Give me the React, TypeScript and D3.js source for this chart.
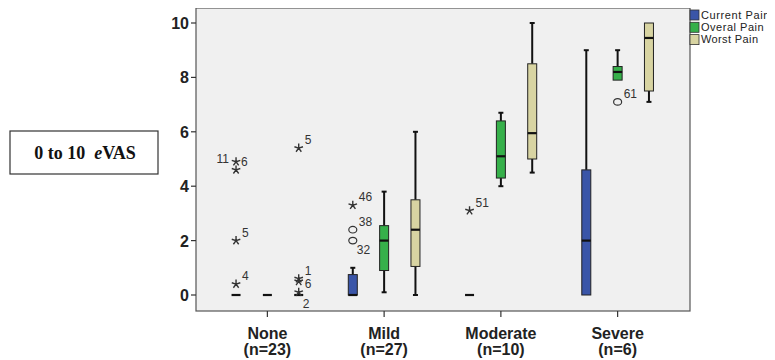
import React, { useRef, useEffect } from "react";
import * as d3 from "d3";

// categories and series
const groups = ["None", "Mild", "Moderate", "Severe"];
const groupN = ["(n=23)", "(n=27)", "(n=10)", "(n=6)"];
const seriesNames = ["Current Pain", "Overal Pain", "Worst Pain"];
const seriesColors = ["#3a55a8", "#36b04a", "#d8d4a2"];

// box stats per series, per group: [low whisker, q1, median, q3, high whisker]
const currentStats = [
  [0, 0, 0, 0, 0],
  [0, 0, 0, 0.75, 1.0],
  [0, 0, 0, 0, 0],
  [0, 0, 2.0, 4.6, 9.0],
];
const overalStats = [
  [0, 0, 0, 0, 0],
  [0.1, 0.9, 2.0, 2.55, 3.8],
  [4.0, 4.3, 5.1, 6.4, 6.7],
  [7.9, 7.9, 8.2, 8.4, 9.0],
];
const worstStats = [
  [0, 0, 0, 0, 0],
  [0, 1.05, 2.4, 3.5, 6.0],
  [4.5, 5.0, 5.95, 8.5, 10],
  [7.1, 7.5, 9.45, 10, 10],
];

// outliers: [group, series, value, kind, label, labelPos]
const outliers: [number, number, number, string, string, string][] = [
  [0, 0, 4.9, "star", "6", "r"],
  [0, 0, 4.6, "star", "11", "tl"],
  [0, 0, 2.0, "star", "5", "tr"],
  [0, 0, 0.4, "star", "4", "tr"],
  [0, 2, 5.4, "star", "5", "tr"],
  [0, 2, 0.6, "star", "1", "tr"],
  [0, 2, 0.5, "star", "", "tr"],
  [0, 2, 0.1, "star", "6", "tr"],
  [0, 2, 0.0, "none", "2", "br"],
  [1, 0, 3.3, "star", "46", "tr"],
  [1, 0, 2.4, "circle", "38", "tr"],
  [1, 0, 2.0, "circle", "32", "br"],
  [2, 0, 3.1, "star", "51", "tr"],
  [3, 1, 7.1, "circle", "61", "tr"],
];

const yTicks = [0, 2, 4, 6, 8, 10];

const width = 775;
const height = 360;

// five-armed asterisk like SPSS extreme markers
function asterisk(r: number) {
  const p = d3.path();
  for (let k = 0; k < 5; k++) {
    const a = -Math.PI / 2 + (k * 2 * Math.PI) / 5;
    p.moveTo(0, 0);
    p.lineTo(r * Math.cos(a), r * Math.sin(a));
  }
  return p.toString();
}

function App() {
  const svgRef = useRef<SVGSVGElement>(null);

  useEffect(() => {
    const svg = d3.select(svgRef.current);
    svg.selectAll("*").remove();

    const plotLeft = 196, plotRight = 690, plotTop = 8, plotBottom = 311;
    const font = "Arial, Liberation Sans, sans-serif";

    const x = d3.scaleBand().domain(groups).range([209, 676]);
    const sub = d3.scaleBand().domain(["0", "1", "2"]).range([-47, 47]);
    const y = d3.scaleLinear().domain([0, 10]).range([295, 23]);
    const boxW = 9;

    const cx = (g: number, s: number) =>
      x(groups[g])! + x.bandwidth() / 2 + sub(String(s))! + sub.bandwidth() / 2;

    // plot background
    svg.append("rect")
      .attr("x", plotLeft).attr("y", plotTop)
      .attr("width", plotRight - plotLeft).attr("height", plotBottom - plotTop)
      .attr("fill", "#f0f0f0")
      .attr("stroke", "#555").attr("stroke-width", 1.2);

    // y axis ticks
    const yAxis = svg.append("g");
    yTicks.forEach(t => {
      yAxis.append("line")
        .attr("x1", plotLeft - 5).attr("x2", plotLeft)
        .attr("y1", y(t)).attr("y2", y(t))
        .attr("stroke", "#333").attr("stroke-width", 1.2);
      yAxis.append("text")
        .attr("x", plotLeft - 7).attr("y", y(t) + 6)
        .attr("text-anchor", "end")
        .attr("font-family", font)
        .attr("font-weight", "bold").attr("font-size", 16)
        .attr("fill", "#222")
        .text(t);
    });

    // x axis ticks
    groups.forEach((g, i) => {
      const gx = x(g)! + x.bandwidth() / 2;
      svg.append("line")
        .attr("x1", gx).attr("x2", gx)
        .attr("y1", plotBottom).attr("y2", plotBottom + 6)
        .attr("stroke", "#333").attr("stroke-width", 1.2);
      const t = svg.append("text")
        .attr("text-anchor", "middle")
        .attr("font-family", font)
        .attr("font-weight", "bold").attr("font-size", 16)
        .attr("fill", "#222");
      t.append("tspan").attr("x", gx).attr("y", 339).text(g);
      t.append("tspan").attr("x", gx).attr("y", 355).text(groupN[i]);
    });

    // boxes
    const allStats = [currentStats, overalStats, worstStats];
    allStats.forEach((stats, s) => {
      stats.forEach((st, g) => {
        const [lo, q1, med, q3, hi] = st;
        const c = cx(g, s);
        const gEl = svg.append("g");
        if (hi > q3) {
          gEl.append("line").attr("x1", c).attr("x2", c)
            .attr("y1", y(q3)).attr("y2", y(hi))
            .attr("stroke", "#111").attr("stroke-width", 2);
          gEl.append("line").attr("x1", c - 2.5).attr("x2", c + 2.5)
            .attr("y1", y(hi)).attr("y2", y(hi))
            .attr("stroke", "#111").attr("stroke-width", 2);
        }
        if (lo < q1) {
          gEl.append("line").attr("x1", c).attr("x2", c)
            .attr("y1", y(q1)).attr("y2", y(lo))
            .attr("stroke", "#111").attr("stroke-width", 2);
          gEl.append("line").attr("x1", c - 2.5).attr("x2", c + 2.5)
            .attr("y1", y(lo)).attr("y2", y(lo))
            .attr("stroke", "#111").attr("stroke-width", 2);
        }
        if (q3 > q1) {
          gEl.append("rect")
            .attr("x", c - boxW / 2).attr("y", y(q3))
            .attr("width", boxW).attr("height", y(q1) - y(q3))
            .attr("fill", seriesColors[s])
            .attr("stroke", "#222").attr("stroke-width", 1);
        }
        gEl.append("line").attr("x1", c - boxW / 2).attr("x2", c + boxW / 2)
          .attr("y1", y(med)).attr("y2", y(med))
          .attr("stroke", "#111").attr("stroke-width", 2.2);
      });
    });

    // outliers
    outliers.forEach(([g, s, v, kind, label, pos]) => {
      const c = cx(g, s);
      const py = y(v);
      if (kind === "star") {
        svg.append("path")
          .attr("transform", `translate(${c},${py})`)
          .attr("d", asterisk(4.5))
          .attr("fill", "none").attr("stroke", "#333").attr("stroke-width", 1.4);
      } else if (kind === "circle") {
        svg.append("ellipse")
          .attr("cx", c).attr("cy", py).attr("rx", 4).attr("ry", 3.3)
          .attr("fill", "none").attr("stroke", "#333").attr("stroke-width", 1.2);
      }
      if (label) {
        let lx = c + 6, ly = py - 4, anchor = "start";
        if (pos === "r") { lx = c + 5; ly = py + 4; }
        if (pos === "tl") { lx = c - 7; ly = py - 7; anchor = "end"; }
        if (pos === "br") { lx = c + 4; ly = py + 13; }
        svg.append("text")
          .attr("x", lx).attr("y", ly)
          .attr("text-anchor", anchor)
          .attr("font-family", font)
          .attr("font-size", 12).attr("fill", "#333")
          .text(label);
      }
    });

    // legend
    seriesNames.forEach((n, i) => {
      const ly = 10 + i * 12.3;
      svg.append("rect")
        .attr("x", 690).attr("y", ly)
        .attr("width", 9).attr("height", 10)
        .attr("fill", seriesColors[i]).attr("stroke", "#333").attr("stroke-width", 0.8);
      svg.append("text")
        .attr("x", 701).attr("y", ly + 8.5)
        .attr("font-family", font)
        .attr("font-size", 11).attr("fill", "#222")
        .attr("textLength", n.length * 5.7)
        .attr("lengthAdjust", "spacing")
        .text(n);
    });

    // side label box
    svg.append("rect")
      .attr("x", 10).attr("y", 131).attr("width", 148).attr("height", 43)
      .attr("fill", "white").attr("stroke", "#333").attr("stroke-width", 1.2);
    const lab = svg.append("text")
      .attr("x", 85).attr("y", 159)
      .attr("text-anchor", "middle")
      .attr("xml:space", "preserve")
      .style("white-space", "pre")
      .attr("font-family", "Liberation Serif, Times New Roman, serif")
      .attr("font-weight", "bold").attr("font-size", 18).attr("fill", "#111");
    lab.append("tspan").text("0 to 10  ");
    lab.append("tspan").attr("font-style", "italic").text("e");
    lab.append("tspan").text("VAS");
  }, []);

  // svg sits at the body's 8px margin; the viewBox offset keeps page coords == user coords
  return (
    <div>
      <svg ref={svgRef} width={width - 8} height={height - 8}
        viewBox={`8 8 ${width - 8} ${height - 8}`}
        style={{ display: "block", background: "white" }}></svg>
    </div>
  );
}

export default App;
